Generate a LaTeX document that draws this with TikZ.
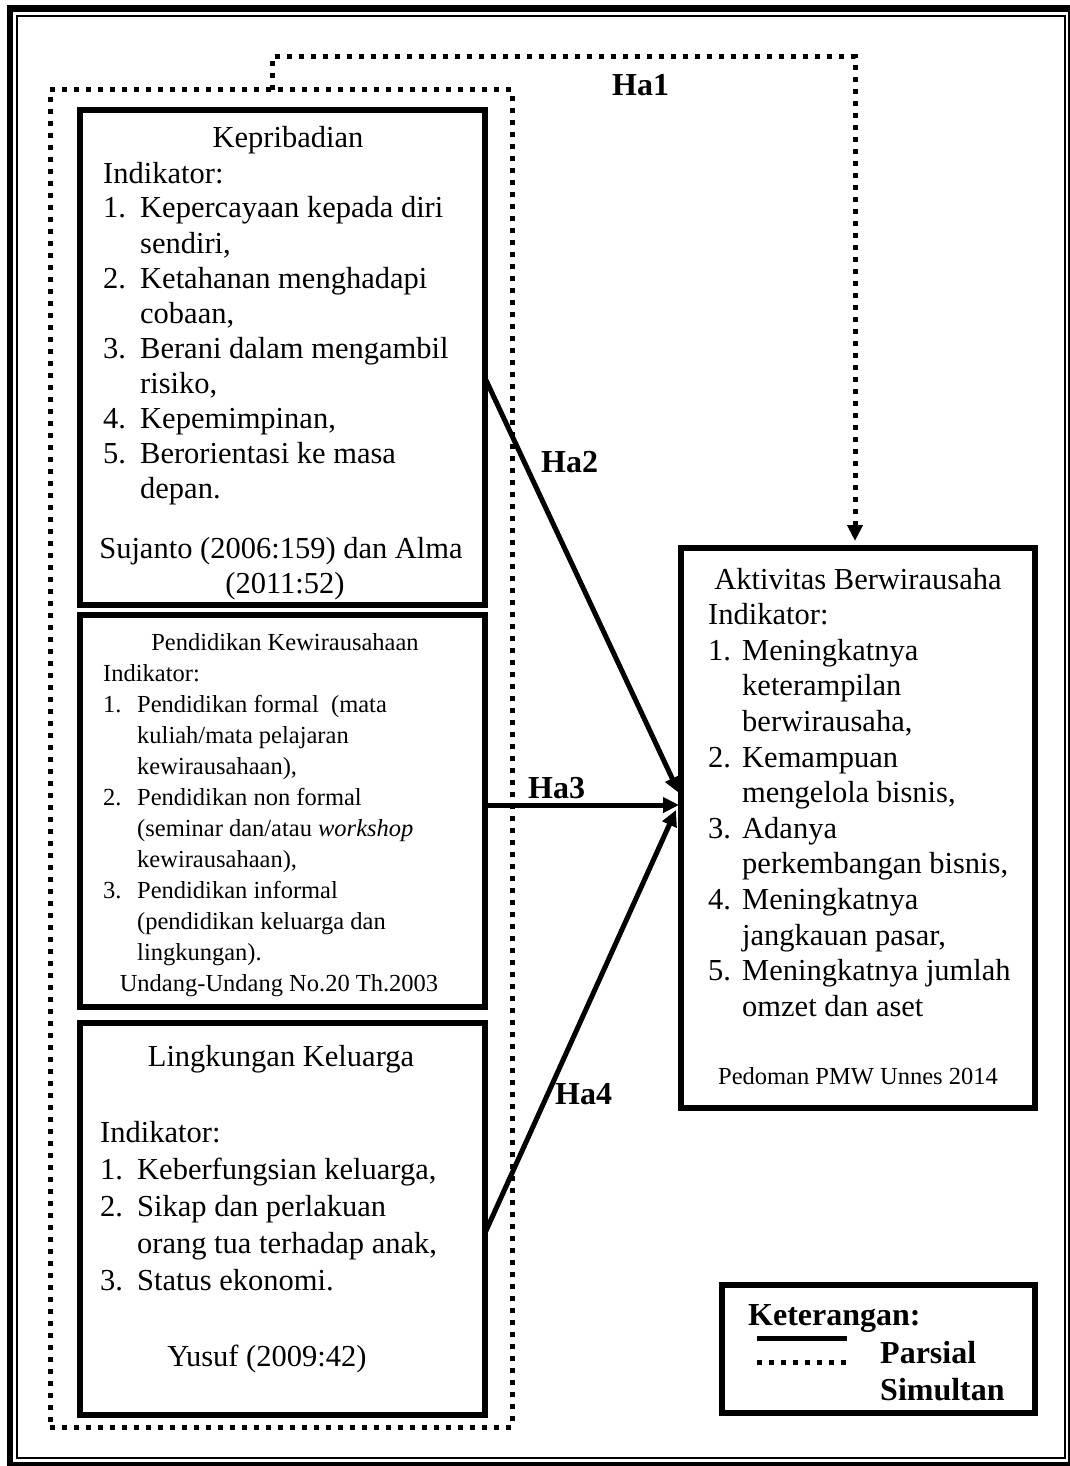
\documentclass[tikz,border=0pt]{standalone}
\usepackage{fontspec}
\setmainfont{Liberation Serif}
\usetikzlibrary{arrows.meta,calc}
\newcommand\fbig{\fontsize{30.5}{35}\selectfont}
\newcommand\fsmall{\fontsize{24.5}{30}\selectfont}
\newcommand\fbold{\fontsize{32}{36}\selectfont\bfseries}
\newcommand\myn[2][37pt]{\makebox[#1][l]{#2}}
\newcommand\myc[1][37pt]{\hspace*{#1}}
\begin{document}
\begin{tikzpicture}[x=1pt,y=-1pt,
  box/.style={draw,line width=6pt,inner sep=0pt,outer sep=0pt,anchor=north west},
  tc/.style={anchor=base,inner sep=0pt,font=\fbig},
  tw/.style={anchor=base west,inner sep=0pt,font=\fbig},
  sc/.style={anchor=base,inner sep=0pt,font=\fsmall},
  sw/.style={anchor=base west,inner sep=0pt,font=\fsmall},
  lab/.style={anchor=base west,inner sep=0pt,font=\fbold},
  dotline/.style={line width=5pt,dash pattern=on 5pt off 7pt},
  solidline/.style={line width=5pt},
  tip/.style={-{Triangle[length=16pt,width=15pt]}}
]
\useasboundingbox (0,0) rectangle (1070,1466);
% page frame
\draw[line width=6.5pt] (10,8.5) rectangle (1071,1465);
\draw[line width=2pt] (17,16) rectangle (1065,1458);

% dotted group
\node[draw,dotline,minimum width=462pt,minimum height=1337pt,anchor=north west,inner sep=0pt,outer sep=0pt] (grp) at (50,90) {};

% boxes
\node[box,minimum width=405pt,minimum height=495pt] (b1) at (80,110) {};
\node[box,minimum width=405pt,minimum height=392pt] (b2) at (80,615) {};
\node[box,minimum width=405pt,minimum height=392pt] (b3) at (80,1023) {};
\node[box,minimum width=354pt,minimum height=560pt] (ra) at (681,548) {};
\node[box,minimum width=313pt,minimum height=128pt] (lg) at (722,1285) {};

% box 1
\node[tc] (b1t) at (288,148) {Kepribadian};
\node[tw] (b1l1) at (103,183) {Indikator:};
\node[tw] (b1l2) at (103,218) {\myn{1.}Kepercayaan kepada diri};
\node[tw] (b1l3) at (103,253) {\myc sendiri,};
\node[tw] (b1l4) at (103,288) {\myn{2.}Ketahanan menghadapi};
\node[tw] (b1l5) at (103,323) {\myc cobaan,};
\node[tw] (b1l6) at (103,358) {\myn{3.}Berani dalam mengambil};
\node[tw] (b1l7) at (103,393) {\myc risiko,};
\node[tw] (b1l8) at (103,428) {\myn{4.}Kepemimpinan,};
\node[tw] (b1l9) at (103,463) {\myn{5.}Berorientasi ke masa};
\node[tw] (b1l10) at (103,498) {\myc depan.};
\node[tc] (b1s1) at (281,558) {Sujanto (2006:159) dan Alma};
\node[tc] (b1s2) at (285,593) {(2011:52)};

% box 2
\node[sc] (b2t) at (285,650) {Pendidikan Kewirausahaan};
\node[sw] (b2l1) at (103,681) {Indikator:};
\node[sw] (b2l2) at (103,712) {\myn[34pt]{1.}Pendidikan formal\ \ (mata};
\node[sw] (b2l3) at (103,743) {\myc[34pt]kuliah/mata pelajaran};
\node[sw] (b2l4) at (103,774) {\myc[34pt]kewirausahaan),};
\node[sw] (b2l5) at (103,805) {\myn[34pt]{2.}Pendidikan non formal};
\node[sw] (b2l6) at (103,836) {\myc[34pt](seminar dan/atau \textit{workshop}};
\node[sw] (b2l7) at (103,867) {\myc[34pt]kewirausahaan),};
\node[sw] (b2l8) at (103,898) {\myn[34pt]{3.}Pendidikan informal};
\node[sw] (b2l9) at (103,929) {\myc[34pt](pendidikan keluarga dan};
\node[sw] (b2l10) at (103,960) {\myc[34pt]lingkungan).};
\node[sc] (b2s) at (279,991) {Undang-Undang No.20 Th.2003};

% box 3
\node[tc] (b3t) at (281,1066) {Lingkungan Keluarga};
\node[tw] (b3l1) at (100,1142) {Indikator:};
\node[tw] (b3l2) at (100,1179) {\myn{1.}Keberfungsian keluarga,};
\node[tw] (b3l3) at (100,1216) {\myn{2.}Sikap dan perlakuan};
\node[tw] (b3l4) at (100,1253) {\myc orang tua terhadap anak,};
\node[tw] (b3l5) at (100,1290) {\myn{3.}Status ekonomi.};
\node[tc] (b3s) at (267,1366) {Yusuf (2009:42)};

% right box
\node[tc] (rt) at (858,589) {Aktivitas Berwirausaha};
\node[tw] (rl1) at (708,624.6) {Indikator:};
\node[tw] (rl2) at (708,660.2) {\myn[34pt]{1.}Meningkatnya};
\node[tw] (rl3) at (708,695.8) {\myc[34pt]keterampilan};
\node[tw] (rl4) at (708,731.4) {\myc[34pt]berwirausaha,};
\node[tw] (rl5) at (708,767) {\myn[34pt]{2.}Kemampuan};
\node[tw] (rl6) at (708,802.6) {\myc[34pt]mengelola bisnis,};
\node[tw] (rl7) at (708,838.2) {\myn[34pt]{3.}Adanya};
\node[tw] (rl8) at (708,873.8) {\myc[34pt]perkembangan bisnis,};
\node[tw] (rl9) at (708,909.4) {\myn[34pt]{4.}Meningkatnya};
\node[tw] (rl10) at (708,945) {\myc[34pt]jangkauan pasar,};
\node[tw] (rl11) at (708,980.6) {\myn[34pt]{5.}Meningkatnya jumlah};
\node[tw] (rl12) at (708,1016.2) {\myc[34pt]omzet dan aset};
\node[sc] (rs) at (858,1084) {Pedoman PMW Unnes 2014};

% hypothesis labels
\node[lab] (ha1) at (612,96) {Ha1};
\node[lab] (ha2) at (541,472) {Ha2};
\node[lab] (ha3) at (528,798) {Ha3};
\node[lab] (ha4) at (555,1104) {Ha4};

% connectors
\coordinate (h1s) at ($(grp.north west)+(222,0)$);
\coordinate (h1c) at (855,57);
\draw[dotline,tip] (h1s) -- (h1s |- h1c) -- (h1c) -- ($(ra.north -| h1c)+(0,-7)$);

\coordinate (h2s) at ($(b1.north east)+(0,268)$);
\coordinate (h2e) at ($(ra.west)+(-2,-35)$);
\draw[solidline,tip] (h2s) -- (h2e);

\coordinate (h3s) at ($(b2.east)+(0,-6)$);
\coordinate (h3e) at ($(ra.west)+(-2,-23)$);
\draw[solidline,tip] (h3s) -- (h3e);

\coordinate (h4s) at ($(b3.north east)+(0,210)$);
\coordinate (h4e) at ($(ra.west)+(-5,-18)$);
\draw[solidline,tip] (h4s) -- (h4e);

% legend
\node[lab] (kt) at (748,1325) {Keterangan:};
\node[lab] (kp) at (880,1363) {Parsial};
\node[lab] (ks) at (880,1400) {Simultan};
\coordinate (lsa) at (757,1338);
\coordinate (lsb) at (847,1338);
\draw[solidline] (lsa) -- (lsb);
\coordinate (lda) at (757,1362);
\coordinate (ldb) at (847,1362);
\draw[dotline] (lda) -- (ldb);
\end{tikzpicture}
\end{document}
